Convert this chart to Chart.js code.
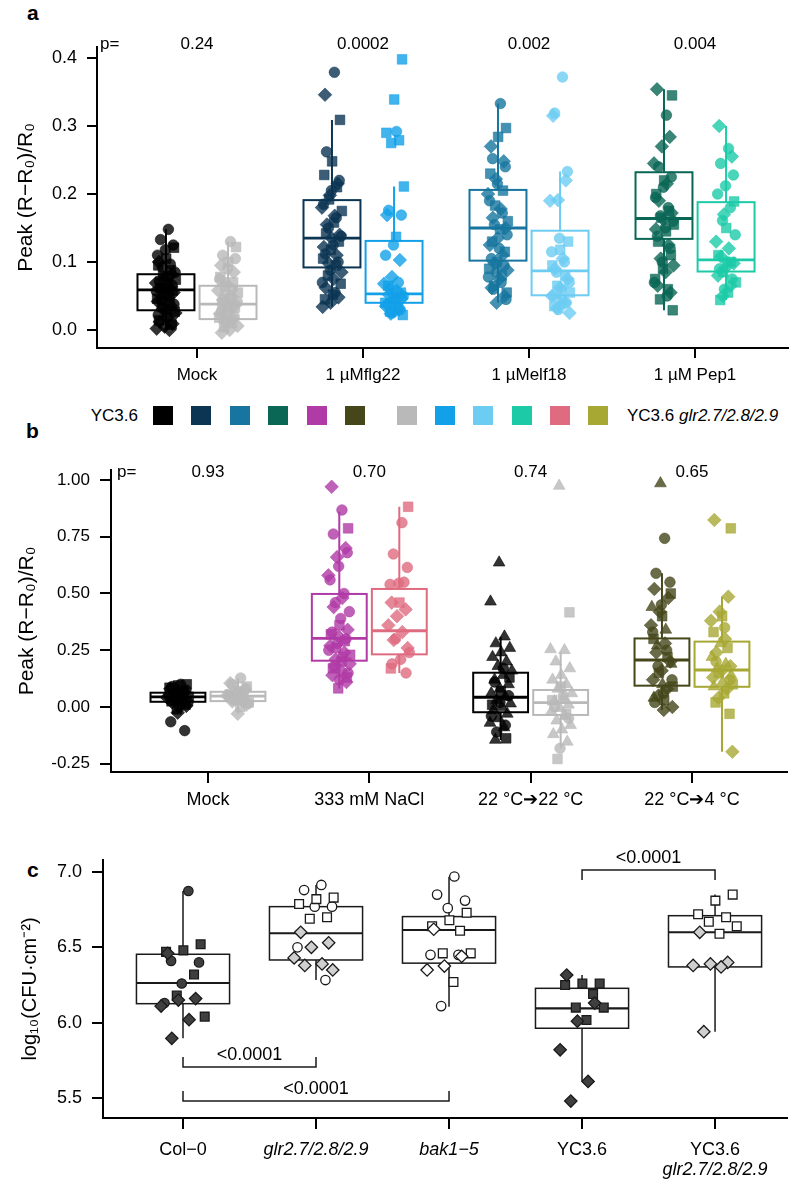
<!DOCTYPE html>
<html>
<head>
<meta charset="utf-8">
<script src="https://cdn.jsdelivr.net/npm/chart.js@4.4.0/dist/chart.umd.min.js"></script>
<style>
  html, body { margin: 0; padding: 0; background: #fff; }
  body { position: relative; width: 800px; height: 1192px; overflow: hidden;
         font-family: "Liberation Sans", Arial, Helvetica, sans-serif; color: #000; }
  canvas { position: absolute; left: 0; }
  .tag { position: absolute; font-weight: bold; font-size: 21px; line-height: 21px; }
  .legend-text { position: absolute; font-size: 17px; line-height: 20px; white-space: nowrap; }
  .swatch { position: absolute; width: 20px; height: 19px; box-sizing: border-box; }
</style>
</head>
<body>
<div class="tag" style="left:27px; top:2px">a</div>
<div class="tag" style="left:26px; top:420px">b</div>
<div class="tag" style="left:27px; top:859px">c</div>
<div id="legend"></div>
<canvas id="chartA" width="800" height="395" style="top:0px"></canvas>
<canvas id="chartB" width="800" height="390" style="top:430px"></canvas>
<canvas id="chartC" width="800" height="372" style="top:820px"></canvas>

<script>
// ================================
// Data
// ================================

// point groups are [circles, squares, diamonds, triangles] (one shape per replicate)
// box stats are [whisker low, q1, median, q3, whisker high]

const ycColors = ['#000000', '#0b3552', '#17759f', '#0a6655', '#b03aa6', '#45461a'];
const glrColors = ['#b9b9b9', '#12a0e8', '#6dccf2', '#1ccaa8', '#df6b80', '#a7a734'];

// ---- panel a ----
const aCategories = ['Mock', '1 µMflg22', '1 µMelf18', '1 µM Pep1'];
const aPvalues = ['0.24', '0.0002', '0.002', '0.004'];
const aTicks = [0, 0.1, 0.2, 0.3, 0.4];
const aYcBoxes = [
  [0.0, 0.029, 0.059, 0.082, 0.148],
  [0.034, 0.092, 0.135, 0.191, 0.309],
  [0.040, 0.102, 0.150, 0.206, 0.333],
  [0.029, 0.134, 0.164, 0.232, 0.354]
];
const aGlrBoxes = [
  [-0.004, 0.016, 0.038, 0.065, 0.130],
  [0.022, 0.040, 0.053, 0.131, 0.211],
  [0.025, 0.051, 0.087, 0.146, 0.233],
  [0.044, 0.086, 0.103, 0.188, 0.300]
];
const aMockYc = [
  [0.148, 0.133, 0.125, 0.118, 0.11, 0.097, 0.092, 0.085, 0.078, 0.072, 0.066, 0.061, 0.057, 0.05, 0.044, 0.038, 0.03, 0.022],
  [0.121, 0.105, 0.095, 0.088, 0.08, 0.074, 0.068, 0.062, 0.058, 0.052, 0.046, 0.04, 0.034, 0.027, 0.02, 0.014, 0.008],
  [0.1, 0.082, 0.075, 0.069, 0.063, 0.059, 0.055, 0.048, 0.042, 0.036, 0.031, 0.025, 0.018, 0.012, 0.009, 0.005, 0.002, 0.0],
  []
];
const aMockGlr = [
  [0.13, 0.11, 0.105, 0.09, 0.075, 0.06, 0.05, 0.042, 0.035, 0.028, 0.02, 0.014],
  [0.122, 0.1, 0.078, 0.07, 0.064, 0.055, 0.046, 0.04, 0.033, 0.025, 0.018, 0.01, 0.004],
  [0.095, 0.085, 0.068, 0.058, 0.05, 0.044, 0.037, 0.03, 0.024, 0.017, 0.012, 0.006, 0.0, -0.004],
  []
];
const aFlgYc = [
  [0.379, 0.262, 0.22, 0.205, 0.185, 0.165, 0.15, 0.138, 0.125, 0.112, 0.1, 0.088, 0.07, 0.055],
  [0.309, 0.248, 0.228, 0.21, 0.192, 0.175, 0.158, 0.142, 0.13, 0.118, 0.105, 0.095, 0.08, 0.068, 0.052, 0.045],
  [0.346, 0.215, 0.198, 0.18, 0.168, 0.155, 0.14, 0.135, 0.122, 0.11, 0.098, 0.085, 0.075, 0.062, 0.048, 0.04, 0.034],
  []
];
const aFlgGlr = [
  [0.292, 0.176, 0.169, 0.125, 0.11, 0.07, 0.06, 0.05, 0.045, 0.038, 0.03, 0.025],
  [0.398, 0.339, 0.29, 0.279, 0.275, 0.211, 0.137, 0.065, 0.055, 0.048, 0.04, 0.033, 0.027, 0.022],
  [0.169, 0.103, 0.078, 0.068, 0.058, 0.052, 0.046, 0.042, 0.035, 0.03, 0.024],
  []
];
const aElfYc = [
  [0.333, 0.252, 0.24, 0.215, 0.19, 0.172, 0.155, 0.14, 0.12, 0.105, 0.095, 0.085, 0.078, 0.07, 0.06, 0.045],
  [0.297, 0.284, 0.23, 0.205, 0.183, 0.16, 0.148, 0.13, 0.115, 0.1, 0.09, 0.08, 0.065, 0.055],
  [0.27, 0.248, 0.222, 0.2, 0.178, 0.165, 0.15, 0.135, 0.125, 0.11, 0.098, 0.088, 0.075, 0.062, 0.05, 0.04],
  []
];
const aElfGlr = [
  [0.372, 0.319, 0.233, 0.135, 0.115, 0.1, 0.085, 0.07, 0.06, 0.05, 0.04, 0.03],
  [0.13, 0.118, 0.095, 0.08, 0.065, 0.055, 0.045, 0.035],
  [0.315, 0.22, 0.191, 0.19, 0.105, 0.09, 0.075, 0.062, 0.05, 0.04, 0.032, 0.025],
  []
];
const aPepYc = [
  [0.316, 0.24, 0.225, 0.21, 0.195, 0.18, 0.168, 0.16, 0.15, 0.138, 0.12, 0.1, 0.07, 0.05],
  [0.345, 0.22, 0.2, 0.175, 0.165, 0.155, 0.145, 0.13, 0.11, 0.09, 0.075, 0.06, 0.045, 0.029],
  [0.354, 0.284, 0.27, 0.245, 0.215, 0.19, 0.172, 0.162, 0.148, 0.125, 0.105, 0.095, 0.085, 0.065, 0.055],
  []
];
const aPepGlr = [
  [0.267, 0.245, 0.228, 0.212, 0.2, 0.18, 0.161, 0.14, 0.1, 0.09, 0.075, 0.06],
  [0.189, 0.15, 0.11, 0.1, 0.085, 0.07, 0.055, 0.044],
  [0.3, 0.255, 0.17, 0.13, 0.12, 0.108, 0.098, 0.092, 0.08, 0.065, 0.05],
  []
];

// ---- panel b ----
const bCategories = ['Mock', '333 mM NaCl', '22 °C➔22 °C', '22 °C➔4 °C'];
const bPvalues = ['0.93', '0.70', '0.74', '0.65'];
const bTicks = [-0.25, 0, 0.25, 0.5, 0.75, 1.0];
const bYcColorIdx = [0, 4, 0, 5];
const bGlrColorIdx = [0, 4, 0, 5];
const bYcBoxes = [
  [-0.025, 0.023, 0.045, 0.063, 0.10],
  [0.082, 0.204, 0.302, 0.498, 0.860],
  [-0.145, -0.023, 0.043, 0.151, 0.31],
  [-0.013, 0.094, 0.207, 0.302, 0.589]
];
const bGlrBoxes = [
  [-0.03, 0.026, 0.048, 0.067, 0.128],
  [0.15, 0.232, 0.336, 0.520, 0.882],
  [-0.182, -0.035, 0.019, 0.075, 0.24],
  [-0.197, 0.089, 0.163, 0.288, 0.486]
];
const bMockYc = [
  [0.1, 0.09, 0.075, 0.06, 0.05, 0.04, 0.03, 0.02, 0.0, -0.065, -0.104],
  [0.1, 0.095, 0.085, 0.07, 0.055, 0.045, 0.035, 0.025, 0.01, -0.01],
  [0.08, 0.065, 0.05, 0.042, 0.035, 0.02, 0.005, -0.025],
  []
];
const bMockGlr = [
  [0.128, 0.1, 0.08, 0.065, 0.05, 0.04, 0.03, 0.015],
  [0.09, 0.07, 0.055, 0.045, 0.035, 0.02, 0.0],
  [0.105, 0.075, 0.06, 0.05, 0.038, 0.025, 0.01, -0.03],
  []
];
const bNaclYc = [
  [0.868, 0.762, 0.68, 0.62, 0.56, 0.5, 0.46, 0.42, 0.39, 0.33, 0.3, 0.28, 0.25, 0.22, 0.18, 0.15, 0.12],
  [0.787, 0.36, 0.32, 0.29, 0.26, 0.23, 0.2, 0.17, 0.13, 0.082],
  [0.97, 0.7, 0.66, 0.58, 0.48, 0.44, 0.34, 0.31, 0.27, 0.24, 0.21, 0.19, 0.16, 0.14, 0.11],
  []
];
const bNaclGlr = [
  [0.812, 0.674, 0.615, 0.545, 0.54, 0.55, 0.3, 0.24, 0.21, 0.19, 0.15],
  [0.882, 0.46, 0.17],
  [0.46, 0.43, 0.4, 0.36, 0.33, 0.295, 0.26],
  []
];
const bWarmYc = [
  [0.17, 0.11, 0.05, 0.02, -0.04, -0.08, -0.11],
  [0.13, 0.07, 0.01, -0.138],
  [],
  [0.636, 0.464, 0.31, 0.28, 0.26, 0.24, 0.22, 0.2, 0.18, 0.16, 0.14, 0.12, 0.1, 0.08, 0.06, 0.045, 0.03, 0.015, 0.0, -0.015, -0.03, -0.05, -0.07, -0.09, -0.145]
];
const bWarmGlr = [
  [0.05, 0.0, -0.05, -0.182],
  [0.417, 0.09, 0.03, -0.03, -0.229],
  [],
  [0.974, 0.254, 0.25, 0.2, 0.17, 0.14, 0.12, 0.1, 0.08, 0.06, 0.04, 0.025, 0.01, -0.005, -0.02, -0.04, -0.06, -0.08, -0.1, -0.12, -0.153]
];
const bColdYc = [
  [0.743, 0.589, 0.55, 0.45, 0.33, 0.25, 0.18, 0.12, 0.06, 0.02],
  [0.5, 0.4, 0.3, 0.22, 0.15, 0.09, 0.03],
  [0.52, 0.48, 0.42, 0.36, 0.28, 0.24, 0.2, 0.16, 0.12, 0.08, 0.05, 0.0, -0.013],
  [0.985, 0.44, 0.34, 0.27, 0.19, 0.1, 0.04]
];
const bColdGlr = [
  [0.35, 0.2, 0.12],
  [0.787, 0.4, 0.33, 0.26, 0.15, 0.1, 0.06, 0.02, -0.03],
  [0.824, 0.486, 0.42, 0.38, 0.3, 0.24, 0.18, 0.16, 0.13, 0.08, 0.04, -0.197],
  [0.28, 0.22, 0.19, 0.17, 0.14, 0.11, 0.09]
];

// ---- panel c ----
const cCategories = ['Col−0', 'glr2.7/2.8/2.9', 'bak1−5', 'YC3.6', 'YC3.6'];
const cSubLabel = 'glr2.7/2.8/2.9';
const cTicks = [5.5, 6.0, 6.5, 7.0];
const cBoxes = [
  [5.896, 6.126, 6.263, 6.454, 6.874],
  [6.283, 6.416, 6.593, 6.770, 6.914],
  [6.106, 6.395, 6.615, 6.704, 6.969],
  [5.61, 5.963, 6.095, 6.228, 6.316],
  [5.94, 6.37, 6.60, 6.71, 6.85]
];
const cCol0 = [[6.874, 6.41, 6.40, 6.26, 6.13], [6.52, 6.48, 6.47, 6.32, 6.18, 6.04], [6.46, 6.16, 6.15, 6.11, 6.02, 5.896], []];
const cGlr = [[6.914, 6.88, 6.77, 6.77, 6.50, 6.283], [6.83, 6.82, 6.788, 6.70, 6.69], [6.60, 6.53, 6.50, 6.43, 6.39, 6.38, 6.35], []];
const cBak = [[6.97, 6.85, 6.81, 6.76, 6.45, 6.45, 6.11], [6.73, 6.68, 6.64, 6.61, 6.46, 6.46, 6.27], [6.62, 6.44, 6.376, 6.35], []];
const cYc = [[], [6.26, 6.26, 6.25, 6.19, 6.10, 6.10, 6.018], [6.316, 6.13, 6.01, 5.82, 5.61, 5.48], []];
const cYcGlr = [[], [6.85, 6.81, 6.72, 6.70, 6.67, 6.64, 6.59], [6.60, 6.40, 6.39, 6.38, 6.37, 5.94], []];
// [from, to, line y, tick end y, label]
const cBrackets = [
  [0, 1, 5.706, 5.772, '<0.0001'],
  [0, 2, 5.48, 5.547, '<0.0001'],
  [3, 4, 7.013, 6.947, '<0.0001']
];

// ================================
// Helpers
// ================================

const FONT = '"Liberation Sans", Arial, Helvetica, sans-serif';
Chart.defaults.font.family = FONT;
Chart.defaults.color = '#000';

const SHAPES = ['circle', 'rect', 'rectRot', 'triangle'];

function rgba(hex, a) {
  const n = parseInt(hex.slice(1), 16);
  return `rgba(${(n >> 16) & 255},${(n >> 8) & 255},${n & 255},${a})`;
}

// deterministic horizontal spread (golden ratio sequence), not random
function jitter(i, k) {
  return (((i + 1) * 0.6180339 + k * 0.2718) % 1) - 0.5;
}

function scatterSet(groups, xc, spread, fills, border, bw, radii) {
  const data = [], style = [], radius = [], bg = [];
  groups.forEach((vals, k) => vals.forEach((v, i) => {
    data.push({ x: xc + 2 * spread * jitter(i, k), y: v });
    style.push(SHAPES[k]);
    radius.push(radii[k]);
    bg.push(Array.isArray(fills) ? fills[k] : fills);
  }));
  return {
    type: 'scatter', data, pointStyle: style, pointRadius: radius, pointHoverRadius: radius,
    backgroundColor: bg, borderColor: border, borderWidth: bw, clip: false
  };
}

function boxPlugin(list) {
  return {
    id: 'boxes',
    beforeDatasetsDraw(chart) {
      const { ctx, scales: { x, y } } = chart;
      list.forEach(b => {
        const cx = x.getPixelForValue(b.x);
        const hw = (x.getPixelForValue(b.x + b.w / 2) - x.getPixelForValue(b.x - b.w / 2)) / 2;
        const [lo, q1, med, q3, hi] = b.stats.map(v => y.getPixelForValue(v));
        ctx.save();
        ctx.strokeStyle = b.color;
        ctx.lineWidth = b.lw;
        ctx.beginPath();
        ctx.moveTo(cx, hi); ctx.lineTo(cx, q3);
        ctx.moveTo(cx, q1); ctx.lineTo(cx, lo);
        ctx.stroke();
        ctx.strokeRect(cx - hw, q3, 2 * hw, q1 - q3);
        ctx.lineWidth = b.lw * 1.4;
        ctx.beginPath();
        ctx.moveTo(cx - hw, med); ctx.lineTo(cx + hw, med);
        ctx.stroke();
        ctx.restore();
      });
    }
  };
}

function pvalPlugin(pvals, pOffset, dy) {
  return {
    id: 'pvals',
    afterDraw(chart) {
      const { ctx, chartArea, scales: { x } } = chart;
      ctx.save();
      ctx.font = `17px ${FONT}`;
      ctx.fillStyle = '#000';
      ctx.textBaseline = 'middle';
      ctx.textAlign = 'left';
      ctx.fillText('p=', chartArea.left + pOffset, chartArea.top + dy);
      ctx.textAlign = 'center';
      pvals.forEach((p, i) => ctx.fillText(p, x.getPixelForValue(i), chartArea.top + dy));
      ctx.restore();
    }
  };
}

function axes(o) {
  const tickGrid = { display: true, drawOnChartArea: false, drawTicks: true, tickLength: o.tickLen, color: '#000', lineWidth: 2 };
  return {
    x: {
      type: 'linear', min: o.xMin, max: o.xMax,
      afterBuildTicks: s => { s.ticks = o.cats.map((c, i) => ({ value: i })); },
      afterFit: s => { s.height = o.xH; },
      grid: tickGrid,
      border: { display: true, color: '#000', width: 2 },
      ticks: {
        autoSkip: false, maxRotation: 0, padding: o.xPad, color: '#000',
        font: o.xFont,
        callback: v => o.cats[v]
      }
    },
    y: {
      type: 'linear', min: o.yMin, max: o.yMax,
      afterBuildTicks: s => { s.ticks = o.ticks.map(v => ({ value: v })); },
      afterFit: s => { s.width = o.yW; },
      grid: tickGrid,
      border: { display: true, color: '#000', width: 2 },
      ticks: { padding: o.yPad, color: '#000', font: { size: o.yFs }, callback: v => v.toFixed(o.dec) },
      title: { display: true, text: o.title, color: '#000', font: { size: o.titleFs }, padding: { top: o.titlePad, bottom: 0 } }
    }
  };
}

function baseOptions(pad, scales) {
  return {
    responsive: false, animation: false, events: [],
    layout: { padding: pad, autoPadding: false },
    plugins: { legend: { display: false }, tooltip: { enabled: false } },
    scales
  };
}

// ================================
// Panel a
// ================================

const aOff = 0.187, aBoxW = 0.343, aSpread = 0.062, abRadii = [5.3, 6.8, 6.8, 6.8];
const aYcPts = [aMockYc, aFlgYc, aElfYc, aPepYc];
const aGlrPts = [aMockGlr, aFlgGlr, aElfGlr, aPepGlr];
const aDatasets = [], aBoxList = [];
aCategories.forEach((c, i) => {
  aDatasets.push(scatterSet(aYcPts[i], i - aOff, aSpread, rgba(ycColors[i], 0.8), rgba(ycColors[i], 0.9), 0.6, abRadii));
  aDatasets.push(scatterSet(aGlrPts[i], i + aOff, aSpread, rgba(glrColors[i], 0.8), rgba(glrColors[i], 0.9), 0.6, abRadii));
  aBoxList.push({ x: i - aOff, w: aBoxW, stats: aYcBoxes[i], color: ycColors[i], lw: 2 });
  aBoxList.push({ x: i + aOff, w: aBoxW, stats: aGlrBoxes[i], color: glrColors[i], lw: 2 });
});

new Chart(document.getElementById('chartA'), {
  type: 'scatter',
  data: { datasets: aDatasets },
  options: baseOptions({ top: 47, right: 12, left: 0, bottom: 0 }, axes({
    cats: aCategories, xMin: -0.6024, xMax: 3.560, xH: 47, xPad: 7, xFont: { size: 17 },
    ticks: aTicks, yMin: -0.0265, yMax: 0.4162, yW: 97, yPad: 10, yFs: 18, dec: 1, tickLen: 10,
    title: 'Peak (R−R₀)/R₀', titleFs: 21, titlePad: 14
  })),
  plugins: [boxPlugin(aBoxList), pvalPlugin(aPvalues, 3, -3)]
});

// ================================
// Legend row
// ================================

const legend = document.getElementById('legend');
function addText(html, left, top, align) {
  const d = document.createElement('div');
  d.className = 'legend-text';
  d.innerHTML = html;
  d.style.top = top + 'px';
  if (align === 'right') { d.style.right = (800 - left) + 'px'; } else { d.style.left = left + 'px'; }
  legend.appendChild(d);
}
function addSwatch(color, cx) {
  const s = document.createElement('div');
  s.className = 'swatch';
  s.style.left = (cx - 10) + 'px';
  s.style.top = '406px';
  s.style.background = color;
  s.style.border = '1px solid ' + rgba(color, 1);
  legend.appendChild(s);
}
addText('YC3.6', 138, 406, 'right');
ycColors.forEach((c, i) => addSwatch(c, 163 + 38.4 * i));
glrColors.forEach((c, i) => addSwatch(c, 407 + 38.2 * i));
addText('YC3.6 <i>glr2.7/2.8/2.9</i>', 627, 406, 'left');

// ================================
// Panel b
// ================================

const bOff = 0.186, bBoxW = 0.34, bSpread = 0.07;
const bYcPts = [bMockYc, bNaclYc, bWarmYc, bColdYc];
const bGlrPts = [bMockGlr, bNaclGlr, bWarmGlr, bColdGlr];
const bDatasets = [], bBoxList = [];
bCategories.forEach((c, i) => {
  const yc = ycColors[bYcColorIdx[i]], gl = glrColors[bGlrColorIdx[i]];
  bDatasets.push(scatterSet(bYcPts[i], i - bOff, bSpread, rgba(yc, 0.8), rgba(yc, 0.9), 0.6, abRadii));
  bDatasets.push(scatterSet(bGlrPts[i], i + bOff, bSpread, rgba(gl, 0.8), rgba(gl, 0.9), 0.6, abRadii));
  bBoxList.push({ x: i - bOff, w: bBoxW, stats: bYcBoxes[i], color: yc, lw: 2 });
  bBoxList.push({ x: i + bOff, w: bBoxW, stats: bGlrBoxes[i], color: gl, lw: 2 });
});

new Chart(document.getElementById('chartB'), {
  type: 'scatter',
  data: { datasets: bDatasets },
  options: baseOptions({ top: 40, right: 13, left: 0, bottom: 0 }, axes({
    cats: bCategories, xMin: -0.601, xMax: 3.589, xH: 48, xPad: 6, xFont: { size: 18 },
    ticks: bTicks, yMin: -0.2863, yMax: 1.044, yW: 111, yPad: 10, yFs: 17, dec: 2, tickLen: 11,
    title: 'Peak (R−R₀)/R₀', titleFs: 21, titlePad: 15
  })),
  plugins: [boxPlugin(bBoxList), pvalPlugin(bPvalues, 6, 2)]
});

// ================================
// Panel c
// ================================

const cSpread = 0.17, cBoxW = 0.70, cRadii = [4.7, 6.2, 6.2, 6.2];
const darkFill = '#3f3f3f', lightFill = '#ffffff', greyFill = '#cfcfcf';
const cPts = [cCol0, cGlr, cBak, cYc, cYcGlr];
const cFills = [darkFill, [lightFill, lightFill, greyFill, lightFill], lightFill, darkFill, [lightFill, lightFill, greyFill, lightFill]];
const cDatasets = cPts.map((g, i) => scatterSet(g, i, cSpread, cFills[i], '#1a1a1a', 1.3, cRadii));
const cBoxList = cBoxes.map((s, i) => ({ x: i, w: cBoxW, stats: s, color: '#1a1a1a', lw: 1.5 }));

const cExtras = {
  id: 'cExtras',
  afterDraw(chart) {
    const { ctx, chartArea, scales: { x, y } } = chart;
    ctx.save();
    ctx.strokeStyle = '#1a1a1a';
    ctx.lineWidth = 1.5;
    ctx.fillStyle = '#000';
    ctx.font = `18px ${FONT}`;
    ctx.textAlign = 'center';
    ctx.textBaseline = 'bottom';
    cBrackets.forEach(([a, b, ly, ty, label]) => {
      const x1 = x.getPixelForValue(a), x2 = x.getPixelForValue(b);
      const py = y.getPixelForValue(ly), pt = y.getPixelForValue(ty);
      ctx.beginPath();
      ctx.moveTo(x1, pt); ctx.lineTo(x1, py); ctx.lineTo(x2, py); ctx.lineTo(x2, pt);
      ctx.stroke();
      ctx.fillText(label, (x1 + x2) / 2, py - 3);
    });
    // second line of the last category label
    ctx.font = `italic 18px ${FONT}`;
    ctx.textBaseline = 'middle';
    ctx.fillText(cSubLabel, x.getPixelForValue(4), chartArea.bottom + 52);
    ctx.restore();
  }
};

const cAxes = axes({
  cats: cCategories, xMin: -0.6015, xMax: 4.541, xH: 74, xPad: 10, xFont: null,
  ticks: cTicks, yMin: 5.3673, yMax: 7.0796, yW: 103, yPad: 10, yFs: 18, dec: 1, tickLen: 11,
  title: 'log₁₀(CFU·cm⁻²)', titleFs: 20, titlePad: 18
});
cAxes.x.ticks.font = ctx => ({ size: 18, family: FONT, style: (ctx.index === 1 || ctx.index === 2) ? 'italic' : 'normal' });

new Chart(document.getElementById('chartC'), {
  type: 'scatter',
  data: { datasets: cDatasets },
  options: baseOptions({ top: 40, right: 13, left: 0, bottom: 0 }, cAxes),
  plugins: [boxPlugin(cBoxList), cExtras]
});
</script>
</body>
</html>
